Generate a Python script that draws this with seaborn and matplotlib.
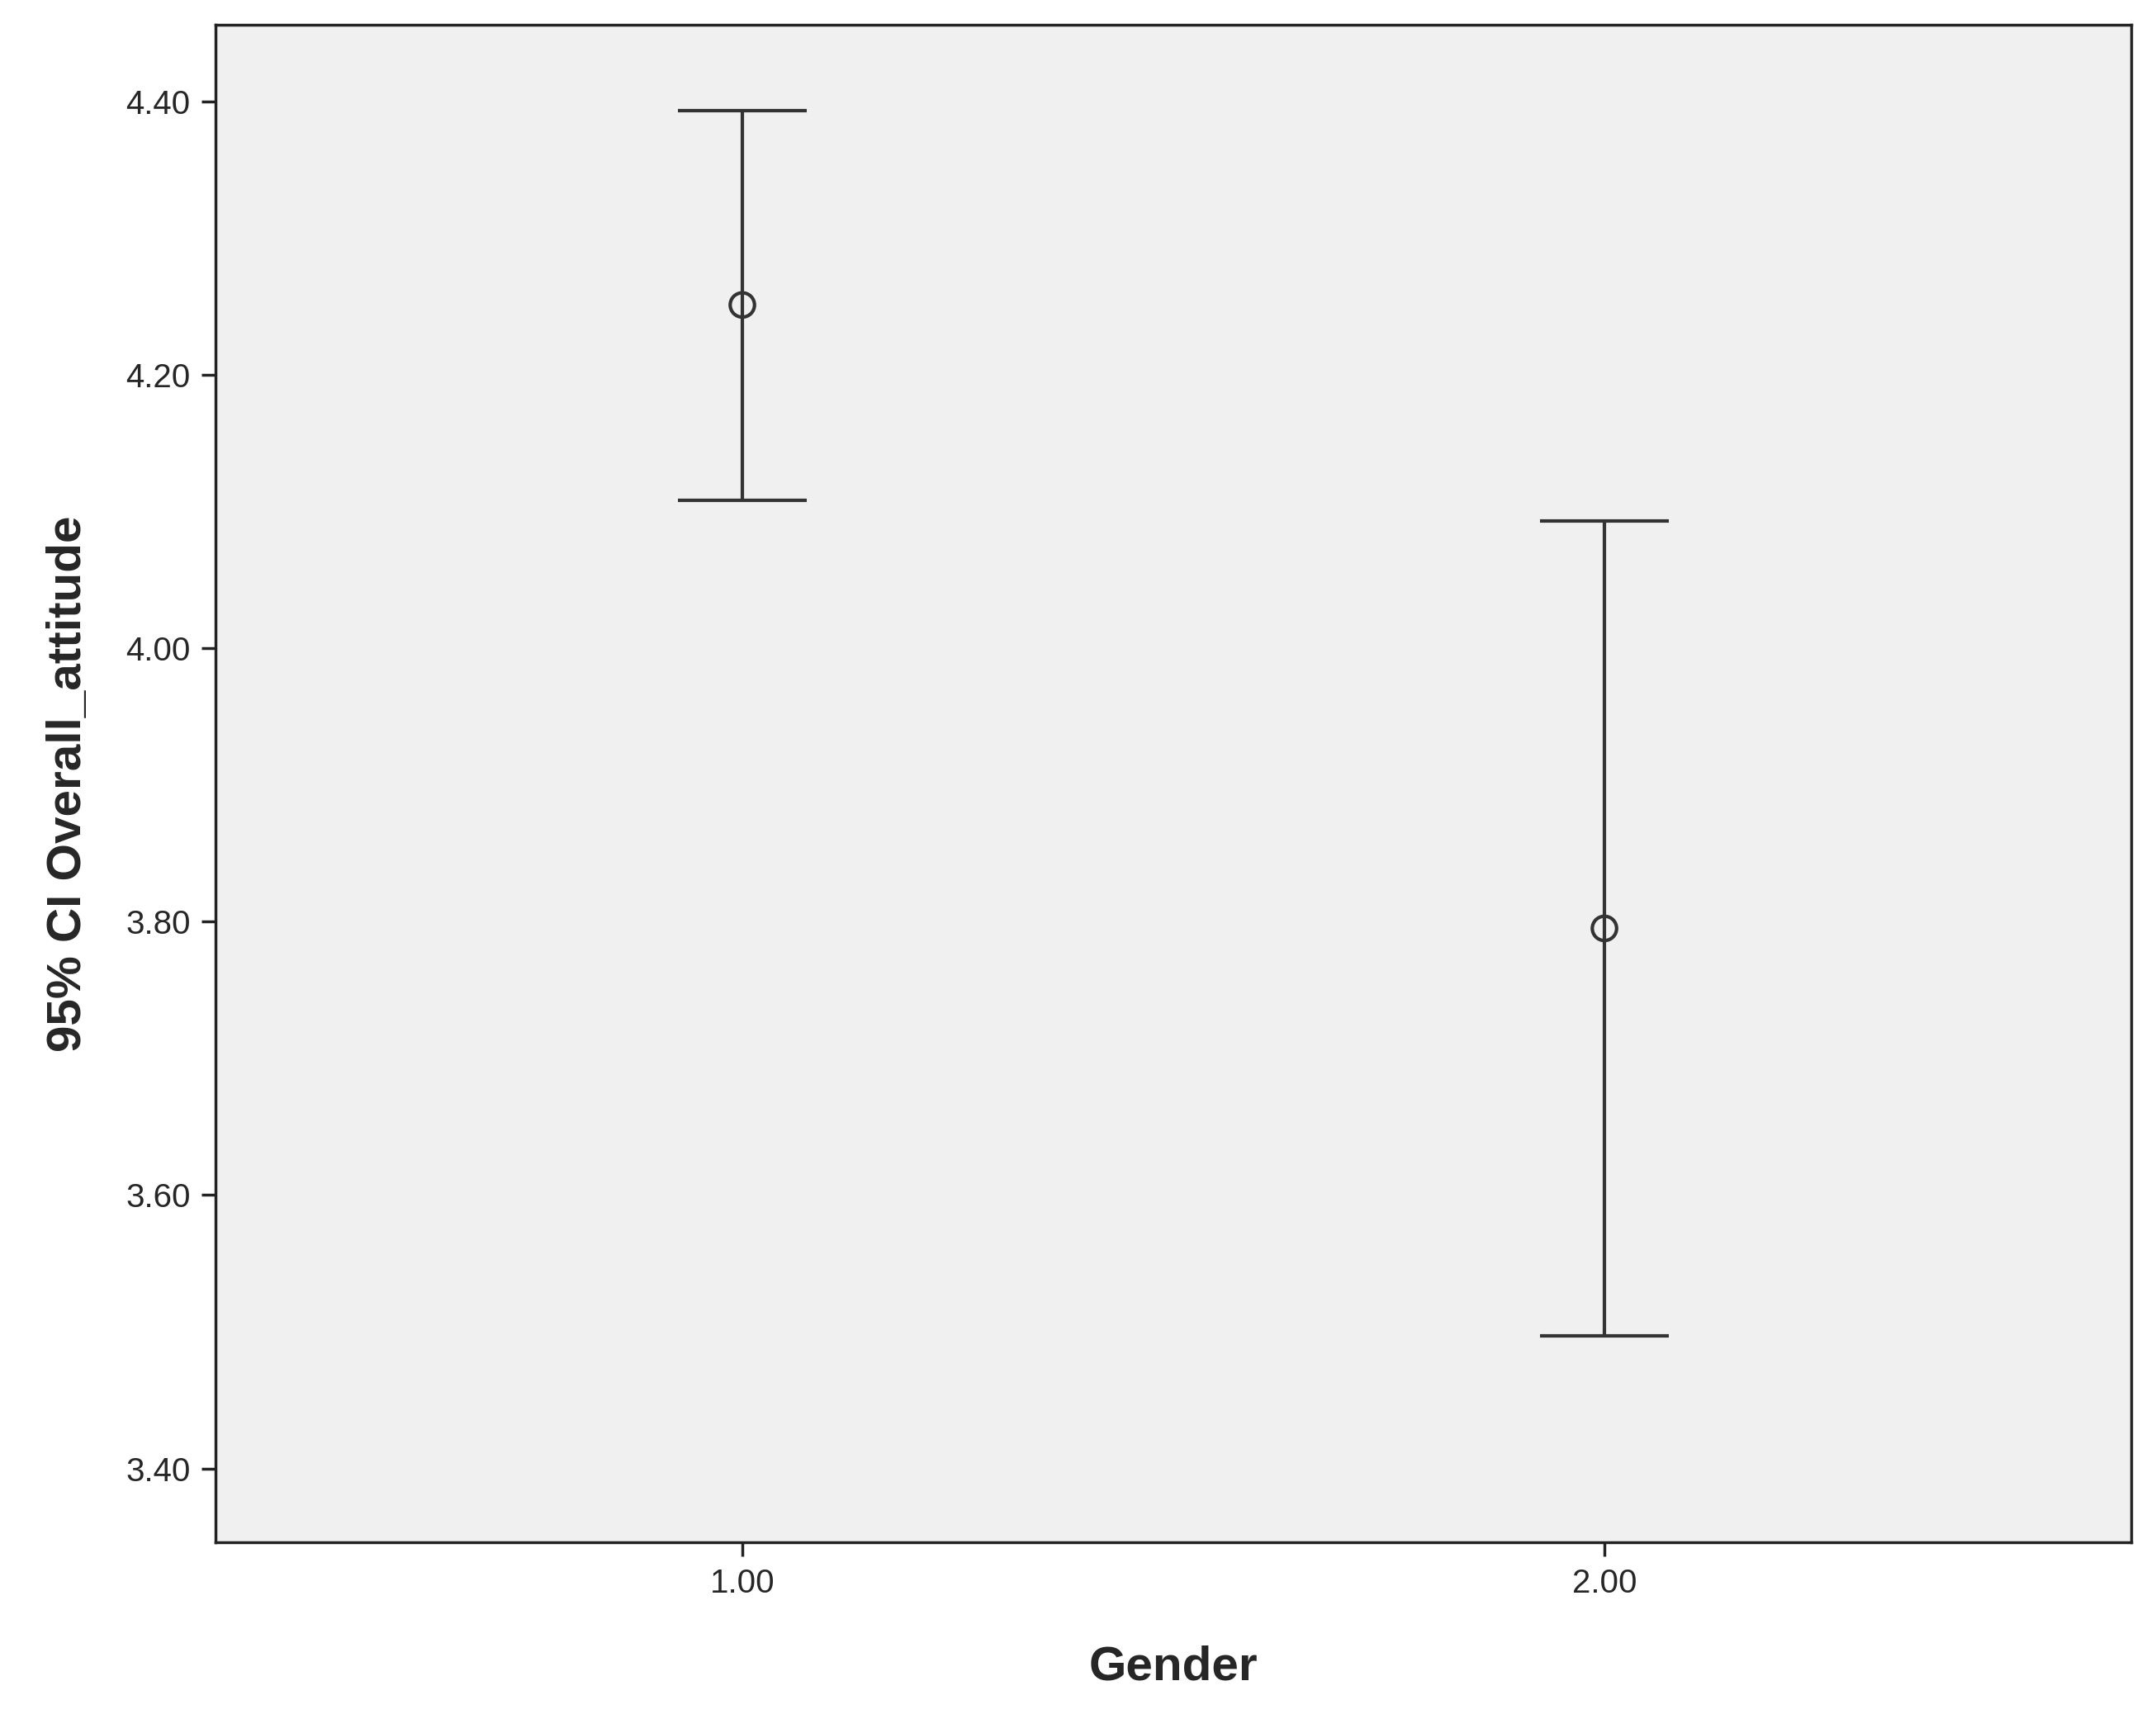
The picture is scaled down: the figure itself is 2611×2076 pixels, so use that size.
import matplotlib
matplotlib.use("Agg")
import matplotlib.pyplot as plt
import seaborn as sns
import pandas as pd

genders = [1.0, 2.0]
means = [4.251, 3.795]
lower = [4.108, 3.497]
upper = [4.393, 4.093]
yticks = [3.40, 3.60, 3.80, 4.00, 4.20, 4.40]

sns.set_style("ticks")
plt.rcParams['font.family'] = ['Arial', 'Liberation Sans', 'DejaVu Sans']

fig = plt.figure(figsize=(26.11, 20.76), dpi=100)
ax = fig.add_axes([0.1, 0.1002, 0.8885, 0.8854])
ax.set_facecolor("#f0f0f0")
df = pd.DataFrame({"Gender": genders, "mean": means, "lo": lower, "hi": upper})
c = "#333333"
ax.vlines(df["Gender"], df["lo"], df["hi"], color=c, lw=3)
for col in ["lo", "hi"]:
    ax.hlines(df[col], df["Gender"] - 0.075, df["Gender"] + 0.075, color=c, lw=3)
sns.scatterplot(data=df, x="Gender", y="mean", ax=ax, s=450, marker="o",
                facecolor="none", edgecolor=c, linewidth=3, zorder=3)
ax.set_xlim(0.389, 2.611)
ax.set_ylim(3.346, 4.456)
ax.set_xticks(genders)
ax.set_xticklabels([f"{g:.2f}" for g in genders])
ax.set_yticks(yticks)
ax.set_yticklabels([f"{t:.2f}" for t in yticks])
ax.tick_params(labelsize=29, length=12, width=2.5, color="#222222", pad=10)
for s in ax.spines.values():
    s.set_linewidth(2.5)
    s.set_color("#222222")
ax.set_xlabel("Gender", fontsize=42, fontweight="bold", labelpad=40)
ax.set_ylabel("95% CI Overall_attitude", fontsize=42, fontweight="bold", labelpad=30)
fig.savefig("out.png", dpi=100)
